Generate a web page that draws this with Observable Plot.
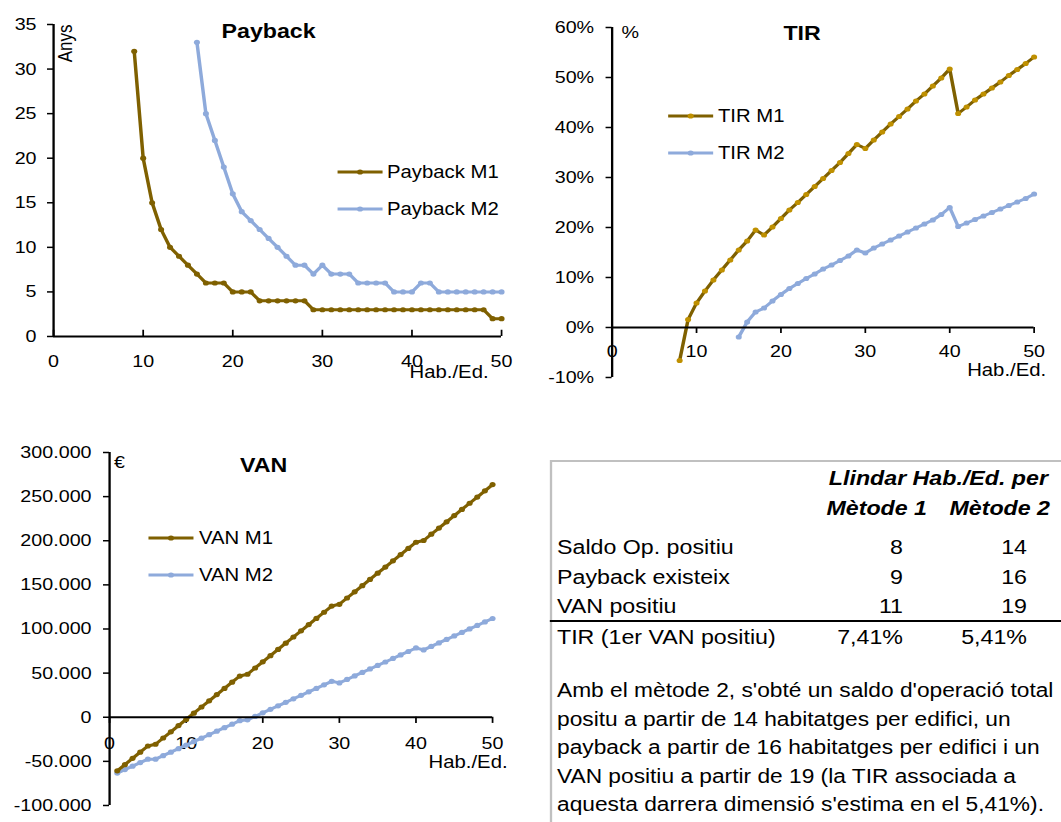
<!DOCTYPE html>
<html>
<head>
<meta charset="utf-8">
<script src="https://cdn.jsdelivr.net/npm/d3@7"></script>
<script src="https://cdn.jsdelivr.net/npm/@observablehq/plot@0.6"></script>
<style>
html, body { margin: 0; padding: 0; background: #fff; width: 1061px; height: 822px; overflow: hidden; }
#wrap { position: relative; width: 915px; height: 822px; transform: scaleX(1.16); transform-origin: 0 0;
  font-family: "Liberation Sans", Arial, sans-serif; color: #000; }
#wrap svg { overflow: visible; }
.t { position: absolute; white-space: nowrap; font-size: 20px; line-height: 28px; }
</style>
</head>
<body>
<div id="wrap"></div>
<script>
// ---------------- DATA ----------------
const hab = [1,2,3,4,5,6,7,8,9,10,11,12,13,14,15,16,17,18,19,20,21,22,23,24,25,
             26,27,28,29,30,31,32,33,34,35,36,37,38,39,40,41,42,43,44,45,46,47,48,49,50];

const paybackM1 = [null,null,null,null,null,null,null,null,32,20,15,12,10,9,8,7,6,6,6,5,5,5,4,4,4,
                   4,4,4,3,3,3,3,3,3,3,3,3,3,3,3,3,3,3,3,3,3,3,3,2,2];
const paybackM2 = [null,null,null,null,null,null,null,null,null,null,null,null,null,null,null,33,25,22,19,16,14,13,12,11,10,
                   9,8,8,7,8,7,7,7,6,6,6,6,5,5,5,6,6,5,5,5,5,5,5,5,5];

const tirM1 = [null,null,null,null,null,null,null,-6.6,1.6,4.9,7.3,9.5,11.5,13.5,15.5,17.3,19.5,18.5,20.1,21.8,23.5,25.0,26.6,28.2,29.8,
               31.4,33.0,34.8,36.6,35.8,37.5,39.1,40.7,42.2,43.7,45.3,46.7,48.3,49.9,51.7,42.8,44.1,45.5,46.7,47.9,49.1,50.4,51.6,52.8,54.1];
const tirM2 = [null,null,null,null,null,null,null,null,null,null,null,null,null,null,-1.9,1.1,3.1,3.9,5.3,6.6,7.8,8.8,9.8,10.7,11.7,
               12.5,13.4,14.3,15.5,14.9,15.9,16.7,17.5,18.3,19.1,19.9,20.7,21.5,22.6,24.0,20.2,20.9,21.6,22.3,23.0,23.7,24.4,25.1,25.8,26.7];

const vanM1 = [-60700,-53700,-46600,-39600,-32600,-30600,-23500,-16500,-9500,-2500,4600,11600,18600,25700,32700,39700,46700,48700,55800,62800,
               69800,76800,83900,90900,97900,105000,112000,119000,126000,128000,135100,142100,149100,156200,163200,170200,177200,184300,191300,198300,
               200300,207400,214400,221400,228500,235500,242500,249500,256600,263600];
const vanM2 = [-63300,-59300,-55400,-51400,-47500,-47500,-43500,-39600,-35600,-31600,-27700,-23700,-19800,-15800,-11800,-7900,-3900,-2900,900,5000,
               9000,12900,16900,20900,24800,28800,32700,36700,40700,38900,42800,46800,50800,54700,58700,62600,66600,70600,74500,78500,
               76300,80300,84200,88200,92100,96100,100100,104000,108000,111900];

const xTicks = [0,10,20,30,40,50];
const paybackTicks = [0,5,10,15,20,25,30,35];
const tirTicks = [-10,0,10,20,30,40,50,60];
const vanTicks = [-100000,-50000,0,50000,100000,150000,200000,250000,300000];

const xAxisLabel = "Hab./Ed.";
const titles = ["Payback", "TIR", "VAN"];
const units = ["Anys", "%", "€"];
const seriesPayback = ["Payback M1", "Payback M2"];
const seriesTir = ["TIR M1", "TIR M2"];
const seriesVan = ["VAN M1", "VAN M2"];

const tableHeader = "Llindar Hab./Ed. per";
const tableMethods = ["Mètode 1", "Mètode 2"];
const tableRows = ["Saldo Op. positiu", "Payback existeix", "VAN positiu", "TIR (1er VAN positiu)"];
const metode1 = ["8", "9", "11", "7,41%"];
const metode2 = ["14", "16", "19", "5,41%"];
const paragraph = [
  "Amb el mètode 2, s'obté un saldo d'operació total",
  "positu a partir de 14 habitatges per edifici, un",
  "payback a partir de 16 habitatges per edifici i un",
  "VAN positiu a partir de 19 (la TIR associada a",
  "aquesta darrera dimensió s'estima en el 5,41%)."
];

// ---------------- LAYOUT ----------------
const SX = 1.16;            // horizontal stretch of the whole figure
const X = v => v / SX;
const brown = "#7f6000", blue = "#8eaadb", gold = "#bf9000";
const font = '"Liberation Sans", Arial, sans-serif';
const wrap = document.getElementById("wrap");

function series(values) {
  return hab.map((h, i) => ({h, v: values[i]})).filter(d => d.v != null);
}
function place(el, left, top) {
  el.style.position = "absolute";
  el.style.left = X(left) + "px";
  el.style.top = top + "px";
  wrap.appendChild(el);
}
const style = {fontFamily: font, fontSize: "17px", color: "black", background: "transparent", overflow: "visible"};

function lineMarks(values, stroke, dotFill) {
  const d = series(values);
  return [
    Plot.line(d, {x: "h", y: "v", stroke, strokeWidth: 3}),
    Plot.dot(d, {x: "h", y: "v", r: 2.6, fill: dotFill, stroke: "none"})
  ];
}
function label(str, dx, dy, opts = {}) {
  return Plot.text([str], {frameAnchor: "top-left", dx: X(dx), dy, text: d => d,
    textAnchor: "middle", lineAnchor: "middle", fontSize: 17, ...opts});
}

const vanFmt = d3.formatLocale({decimal: ",", thousands: ".", grouping: [3], currency: ["", "€"], minus: "-"}).format(",");

// Payback
const pb = Plot.plot({
  width: X(530), height: 400,
  marginLeft: X(53), marginRight: X(29), marginTop: 24, marginBottom: 64,
  x: {domain: [0, 50], axis: null},
  y: {domain: [0, 35], label: null},
  style,
  marks: [
    Plot.axisY(paybackTicks, {anchor: "left", label: null, tickSize: X(6), tickPadding: X(11), fontSize: 17, strokeWidth: 1.5, tickFormat: d => String(d)}),
    Plot.ruleX(xTicks, {x: d => d, y1: 0, y2: 0.7, strokeWidth: 1.5}),
    Plot.text(xTicks, {x: d => d, y: 0, dy: 25, text: d => String(d), fontSize: 17}),
    Plot.text([xAxisLabel], {frameAnchor: "bottom-right", dx: X(-13), dy: 42, text: d => d, textAnchor: "end", fontSize: 17.5}),
    label(units[0], 12, 19, {rotate: -90}),
    label(titles[0], 215, 7, {fontSize: 20, fontWeight: "bold"}),
    ...lineMarks(paybackM2, blue, blue),
    ...lineMarks(paybackM1, brown, brown),
    Plot.ruleY([0], {strokeWidth: 2}),
    Plot.ruleX([0], {strokeWidth: 2})
  ]
});
place(pb, 0, 0);

// TIR
const tir = Plot.plot({
  width: X(521), height: 400,
  marginLeft: X(71), marginRight: X(28), marginTop: 27, marginBottom: 23,
  x: {domain: [0, 50], axis: null},
  y: {domain: [-10, 60], label: null},
  style,
  marks: [
    Plot.axisY(tirTicks, {anchor: "left", label: null, tickSize: X(6), tickPadding: X(12), fontSize: 17, strokeWidth: 1.5, tickFormat: d => d + "%"}),
    Plot.ruleX(xTicks, {x: d => d, y1: 0, y2: -1.2, strokeWidth: 1.5}),
    Plot.text(xTicks, {x: d => d, y: 0, dy: 24, text: d => String(d), fontSize: 17}),
    Plot.text([xAxisLabel], {frameAnchor: "bottom-right", dx: X(12), dy: -1, text: d => d, textAnchor: "end", fontSize: 17.5}),
    label(units[1], 18, 5),
    label(titles[1], 190, 6, {fontSize: 20, fontWeight: "bold"}),
    ...lineMarks(tirM2, blue, blue),
    ...lineMarks(tirM1, brown, gold),
    Plot.ruleY([0], {strokeWidth: 2}),
    Plot.ruleX([0], {strokeWidth: 2})
  ]
});
place(tir, 540, 0);

// VAN
const van = Plot.plot({
  width: X(540), height: 402,
  marginLeft: X(109), marginRight: X(48), marginTop: 32, marginBottom: 17,
  x: {domain: [0, 50], axis: null},
  y: {domain: [-100000, 300000], label: null},
  style,
  marks: [
    Plot.axisY(vanTicks, {anchor: "left", label: null, tickSize: X(6), tickPadding: X(12), fontSize: 17, strokeWidth: 1.5, tickFormat: vanFmt}),
    Plot.ruleX(xTicks, {x: d => d, y1: 0, y2: -7000, strokeWidth: 1.5}),
    Plot.text(xTicks, {x: d => d, y: 0, dy: 26, text: d => String(d), fontSize: 17}),
    Plot.text([xAxisLabel], {frameAnchor: "bottom-right", dx: X(15), dy: -37, text: d => d, textAnchor: "end", fontSize: 17.5}),
    label(units[2], 10, 10),
    label(titles[2], 154, 13, {fontSize: 20, fontWeight: "bold"}),
    ...lineMarks(vanM2, blue, blue),
    ...lineMarks(vanM1, brown, brown),
    Plot.ruleY([0], {strokeWidth: 2}),
    Plot.ruleX([0], {strokeWidth: 2})
  ]
});
place(van, 0, 420);

// Legends
function legendRow(xLine, yCenter, text, stroke, dotFill) {
  const row = document.createElement("div");
  row.style.cssText = `height:24px;display:flex;align-items:center;white-space:nowrap;font-size:17.5px;`;
  const w = X(45);
  row.innerHTML = `<svg width="${w}" height="24" style="display:block"><line x1="0" x2="${w}" y1="12" y2="12" stroke="${stroke}" stroke-width="3"/>` +
    `<circle cx="${w / 2}" cy="12" r="2.6" fill="${dotFill}"/></svg><span style="margin-left:${X(5)}px">${text}</span>`;
  place(row, xLine, yCenter - 12);
}
legendRow(337, 172, seriesPayback[0], brown, brown);
legendRow(337, 209, seriesPayback[1], blue, blue);
legendRow(668, 116, seriesTir[0], brown, gold);
legendRow(668, 153, seriesTir[1], blue, blue);
legendRow(149, 538, seriesVan[0], brown, brown);
legendRow(149, 575, seriesVan[1], blue, blue);

// Table box
const box = document.createElement("div");
box.style.cssText = `width:${X(600)}px;height:420px;border:2px solid #c0c0c0;box-sizing:border-box;`;
place(box, 550, 460);

function textAt(str, left, cy, opts = {}) {
  const el = document.createElement("div");
  el.className = "t";
  el.textContent = str;
  if (opts.style) el.style.cssText += opts.style;
  if (opts.right != null) {
    el.style.width = X(300) + "px";
    el.style.textAlign = "right";
    place(el, opts.right - 300, cy - 14);
  } else {
    place(el, left, cy - 14);
  }
  return el;
}
const hdr = "font-weight:bold;font-style:italic;";
textAt(tableHeader, 0, 478, {right: 1048, style: hdr});
textAt(tableMethods[0], 0, 508, {right: 927, style: hdr});
textAt(tableMethods[1], 0, 508, {right: 1050, style: hdr});
const rowY = [547, 577, 606, 637];
tableRows.forEach((r, i) => {
  textAt(r, 557, rowY[i]);
  textAt(metode1[i], 0, rowY[i], {right: 903});
  textAt(metode2[i], 0, rowY[i], {right: 1027});
});
const rule = document.createElement("div");
rule.style.cssText = `width:${X(520)}px;height:2px;background:#000;`;
place(rule, 550, 620);
const parY = [690, 718.5, 747, 775.5, 804];
paragraph.forEach((line, i) => textAt(line, 557, parY[i], {style: "font-size:19.6px;"}));
</script>
</body>
</html>
